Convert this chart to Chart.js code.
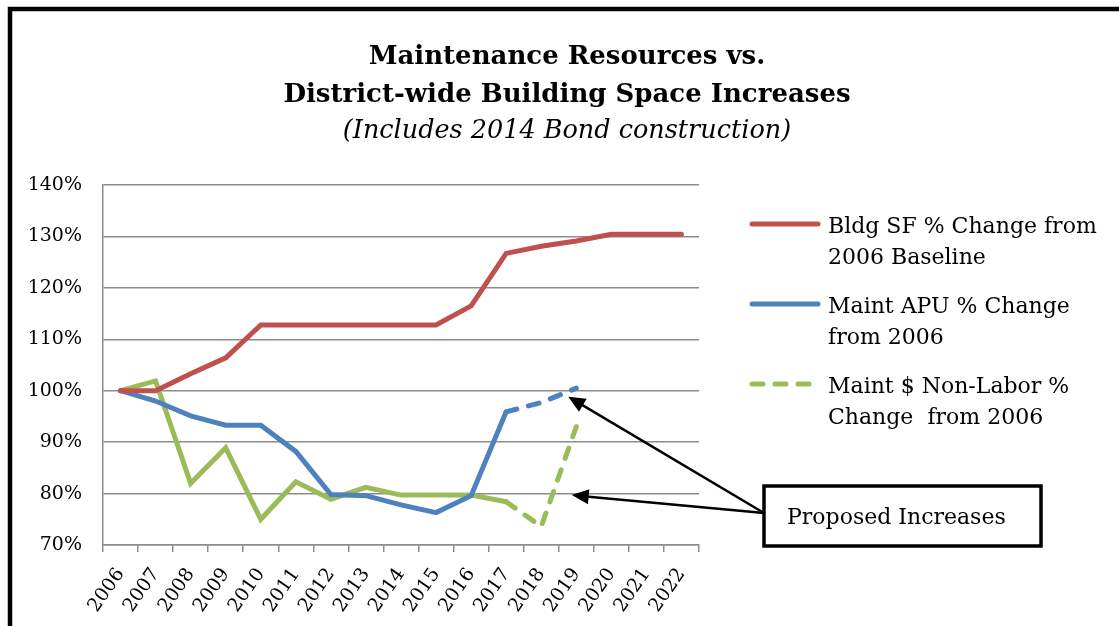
<!DOCTYPE html>
<html>
<head>
<meta charset="utf-8">
<script src="https://cdn.jsdelivr.net/npm/chart.js@4.4.1/dist/chart.umd.min.js"></script>
<style>
  html, body { margin: 0; padding: 0; background: #fff; }
  canvas { display: block; }
</style>
</head>
<body>
<canvas id="maintChart" width="1119" height="626"></canvas>
<script>
// years on the x axis
const years = ["2006", "2007", "2008", "2009", "2010", "2011", "2012", "2013", "2014",
               "2015", "2016", "2017", "2018", "2019", "2020", "2021", "2022"];

// % of 2006 level
const bldgSF = [100, 100, 103.3, 106.4, 112.8, 112.8, 112.8, 112.8, 112.8, 112.8,
                116.5, 126.7, 128.1, 129.1, 130.4, 130.4, 130.4];
const maintAPU = [100, 98, 95.1, 93.3, 93.3, 88.2, 79.8, 79.6, 77.8, 76.3,
                  79.6, 95.9, 97.7, 100.5, null, null, null];
const maintNonLabor = [100, 101.9, 82, 88.9, 75, 82.3, 78.9, 81.2, 79.7, 79.7,
                       79.7, 78.4, 73.6, 93, null, null, null];

const seriesNames = [
  ["Bldg SF % Change from", "2006 Baseline"],
  ["Maint APU % Change", "from 2006"],
  ["Maint $ Non-Labor %", "Change  from 2006"]
];
const yTicks = [70, 80, 90, 100, 110, 120, 130, 140];

const titleLines = ["Maintenance Resources vs.", "District-wide Building Space Increases"];
const subTitle = "(Includes 2014 Bond construction)";
const calloutText = "Proposed Increases";

// proposed part of the lines starts after this year
const proposedStart = years.indexOf("2017");
// arrow tips, in axis units (category index, percent)
const arrowTips = [[12.77, 98.85], [12.87, 79.7]];

const serif = '"DejaVu Serif", "Liberation Serif", serif';
const dashed = [11, 12];

function proposedDash(ctx) {
  return ctx.p0DataIndex >= proposedStart ? dashed : undefined;
}

// frame, titles, legend and the callout box
const decorations = {
  id: "decorations",
  afterDraw(chart) {
    const ctx = chart.ctx;
    const area = chart.chartArea;
    const xs = chart.scales.x, ys = chart.scales.y;
    ctx.save();

    // outer frame (top and left edges show)
    ctx.strokeStyle = "#000";
    ctx.lineWidth = 4.5;
    ctx.beginPath();
    ctx.moveTo(1119, 9);
    ctx.lineTo(10, 9);
    ctx.lineTo(10, 626);
    ctx.stroke();

    // titles
    ctx.fillStyle = "#000";
    ctx.textAlign = "center";
    ctx.textBaseline = "alphabetic";
    ctx.font = "bold 26px " + serif;
    ctx.fillText(titleLines[0], 567, 64);
    ctx.fillText(titleLines[1], 567, 102);
    ctx.font = "italic 25.5px " + serif;
    ctx.fillText(subTitle, 567, 138);

    // legend
    ctx.textAlign = "left";
    ctx.font = "22px " + serif;
    chart.data.datasets.forEach((ds, i) => {
      const y = 224 + i * 80;
      ctx.strokeStyle = ds.borderColor;
      ctx.lineWidth = 5;
      ctx.lineCap = "round";
      ctx.setLineDash(ds.legendDash || []);
      ctx.beginPath();
      ctx.moveTo(area.right + 53, y);
      ctx.lineTo(area.right + 119, y);
      ctx.stroke();
      ctx.setLineDash([]);
      ctx.fillStyle = "#000";
      seriesNames[i].forEach((line, j) => {
        ctx.fillText(line, area.right + 129, y + 9 + j * 30.5);
      });
    });

    // callout box
    const bx = area.right + 65, by = area.bottom - 59, bw = 277, bh = 60;
    ctx.lineWidth = 3.5;
    ctx.strokeStyle = "#000";
    ctx.fillStyle = "#fff";
    ctx.fillRect(bx, by, bw, bh);
    ctx.strokeRect(bx, by, bw, bh);
    ctx.fillStyle = "#000";
    ctx.font = "22px " + serif;
    ctx.fillText(calloutText, bx + 23, by + 38);

    // arrows from the box to the proposed parts
    const sx = bx, sy = by + 27;
    arrowTips.forEach(([xv, yv]) => {
      const tx = xs.getPixelForValue(xv), ty = ys.getPixelForValue(yv);
      const ang = Math.atan2(ty - sy, tx - sx);
      const head = 17, half = 7.5;
      const hx = tx - head * Math.cos(ang), hy = ty - head * Math.sin(ang);
      ctx.lineWidth = 2.5;
      ctx.beginPath();
      ctx.moveTo(sx, sy);
      ctx.lineTo(hx, hy);
      ctx.stroke();
      ctx.beginPath();
      ctx.moveTo(tx, ty);
      ctx.lineTo(hx + half * Math.sin(ang), hy - half * Math.cos(ang));
      ctx.lineTo(hx - half * Math.sin(ang), hy + half * Math.cos(ang));
      ctx.closePath();
      ctx.fill();
    });

    ctx.restore();
  }
};

const ctx = document.getElementById("maintChart").getContext("2d");
new Chart(ctx, {
  type: "line",
  data: {
    labels: years,
    datasets: [{
      label: seriesNames[0].join(" "),
      data: bldgSF,
      borderColor: "#C0504D",
      backgroundColor: "#C0504D",
      borderWidth: 5,
      borderCapStyle: "round",
      pointRadius: 0,
      tension: 0
    }, {
      label: seriesNames[1].join(" "),
      data: maintAPU,
      borderColor: "#4F81BD",
      backgroundColor: "#4F81BD",
      borderWidth: 5,
      borderCapStyle: "round",
      pointRadius: 0,
      tension: 0,
      segment: { borderDash: proposedDash }
    }, {
      label: seriesNames[2].join(" "),
      data: maintNonLabor,
      borderColor: "#9BBB59",
      backgroundColor: "#9BBB59",
      borderWidth: 5,
      borderCapStyle: "round",
      pointRadius: 0,
      tension: 0,
      legendDash: dashed,
      segment: { borderDash: proposedDash }
    }]
  },
  options: {
    responsive: false,
    animation: false,
    devicePixelRatio: 1,
    layout: { padding: { left: 0, top: 185, right: 420, bottom: 0 } },
    plugins: {
      legend: { display: false },
      title: { display: false },
      tooltip: { enabled: false }
    },
    scales: {
      x: {
        offset: true,
        afterFit: s => { s.height = 81; },
        grid: {
          offset: true,
          drawOnChartArea: false,
          color: "#8C8C8C",
          lineWidth: 1.5,
          tickLength: 7
        },
        border: { color: "#8C8C8C", width: 1.5 },
        ticks: {
          minRotation: 55,
          maxRotation: 55,
          autoSkip: false,
          padding: 12,
          color: "#000",
          font: { family: serif, size: 19 }
        }
      },
      y: {
        min: 70,
        max: 140,
        afterFit: s => { s.width = 103; },
        afterBuildTicks: s => { s.ticks = yTicks.map(v => ({ value: v })); },
        grid: { color: "#8C8C8C", lineWidth: 1.5, drawTicks: false },
        border: { color: "#8C8C8C", width: 1.5 },
        ticks: {
          padding: 21,
          color: "#000",
          font: { family: serif, size: 19 },
          callback: v => v + "%"
        }
      }
    }
  },
  plugins: [decorations]
});
</script>
</body>
</html>
